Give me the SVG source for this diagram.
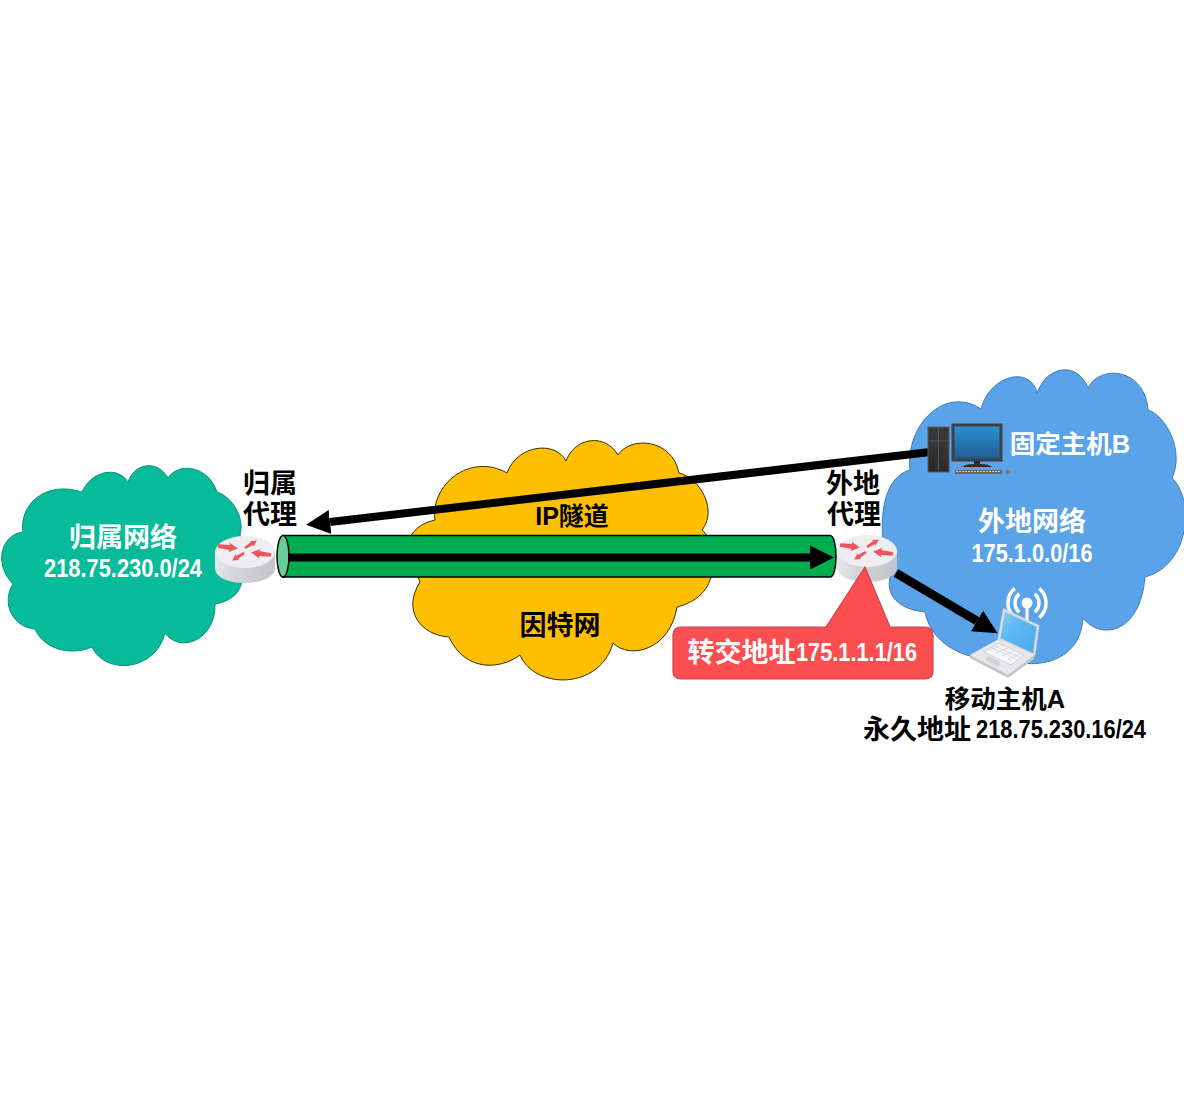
<svg xmlns="http://www.w3.org/2000/svg" width="1184" height="1120" viewBox="0 0 1184 1120">
<style>
text{font-family:"Liberation Sans","Noto Sans CJK SC",sans-serif;font-weight:700;text-anchor:middle;font-size:27px;fill:#000}
.w{fill:#fff}
.n{font-size:25px}
.ra{fill:#ef5560}
</style>
<defs>
<marker id="ah" markerUnits="userSpaceOnUse" markerWidth="26" markerHeight="28" refX="0" refY="14" orient="auto"><path d="M0 2L24 14L0 26Z" fill="#000"/></marker>
<linearGradient id="rs" x1="0" x2="1" y1="0" y2="0"><stop offset="0" stop-color="#e6e7e9"/><stop offset=".35" stop-color="#d3d4d8"/><stop offset="1" stop-color="#c3c5cc"/></linearGradient>
<linearGradient id="scr" x1="0" x2="0" y1="0" y2="1"><stop offset="0" stop-color="#2b93d6"/><stop offset="1" stop-color="#1f5a8c"/></linearGradient>
<linearGradient id="lap" x1="0" x2="1" y1="0" y2="1"><stop offset="0" stop-color="#8ccdf5"/><stop offset=".4" stop-color="#5fb8f2"/><stop offset="1" stop-color="#4aa9ea"/></linearGradient>
<linearGradient id="tow" x1="0" x2="0" y1="0" y2="1"><stop offset="0" stop-color="#3a3a3a"/><stop offset="1" stop-color="#2a2a2a"/></linearGradient>
<path id="ra" d="M0 -1.800L12 -2.500L11 -5L20 0L11 5L12 2.500L0 1.800Z"/>
<g id="router">
<path d="M0 16V32C0 41 13 47 30 47S60 41 60 32V16Z" fill="url(#rs)"/>
<ellipse cx="30" cy="16" rx="30" ry="16" fill="#eeeef0"/>
<use href="#ra" class="ra" transform="translate(3 10) rotate(7)"/>
<use href="#ra" class="ra" transform="translate(30 12) rotate(-32) scale(.7)"/>
<use href="#ra" class="ra" transform="translate(56 19) rotate(187)"/>
<use href="#ra" class="ra" transform="translate(29 17) rotate(148) scale(.7)"/>
</g>
</defs>

<g id="home-network">
<path d="M23 532C19 505 45 480 82 492C92 470 118 466 128 482C135 462 158 460 168 478C178 462 208 465 217 492C232 497 245 517 240 535C246 550 247 570 241 585C238 595 228 602 215 604C216 640 180 654 165 633C155 672 105 675 92 647C75 655 45 652 35 629C15 628 0 605 13 584C-6 565 0 535 23 532Z" fill="#06bb9a" stroke="#0a8f78"/>
<text class="w" x="123" y="547">归属网络</text>
<text class="w n" x="123" y="577" textLength="158" lengthAdjust="spacingAndGlyphs">218.75.230.0/24</text>
</g>

<g id="internet">
<path d="M435 520C430 485 470 452 507 473C517 445 555 440 566 461C575 437 605 433 618 455C630 436 672 438 679 473C700 478 718 510 702 530C712 538 718 565 711 577C706 595 692 603 677 607C670 650 630 660 613 643C600 690 535 690 520 655C500 670 465 672 449 637C420 635 402 610 420 582C415 570 405 550 412 534C418 526 426 522 435 520Z" fill="#fdbf00" stroke="#3a3000"/>
<text x="560" y="635">因特网</text>
</g>

<g id="foreign-network">
<path d="M910 470C905 425 945 385 981 409C990 375 1030 365 1037 393C1048 364 1078 362 1088 388C1100 364 1145 368 1148 410C1165 415 1185 450 1172 478C1195 500 1190 565 1145 577C1140 635 1100 640 1083 618C1080 670 1020 670 1000 655C980 665 932 650 925 612C905 610 885 600 890 577C876 530 880 478 910 470Z" fill="#5aa3e9" stroke="#3f7db8"/>
<text class="w" x="1032" y="531">外地网络</text>
<text class="w n" x="1032" y="562" textLength="121" lengthAdjust="spacingAndGlyphs">175.1.0.0/16</text>
</g>

<g id="tunnel">
<path d="M283 535.500H830C834 535.500 836 546 836 556.500S834 577 830 577H283Z" fill="#00ad4e" stroke="#000" stroke-width="1.500"/>
<ellipse cx="283" cy="556.300" rx="6" ry="20.700" fill="#66cd98" stroke="#000" stroke-width="1.500"/>
<text x="572" y="525" style="font-size:25px">IP隧道</text>
</g>

<g id="connectors" fill="none" stroke="#000">
<path d="M288 557.500H810" stroke-width="8" marker-end="url(#ah)"/>
<path d="M930 452L330 522" stroke-width="8" marker-end="url(#ah)"/>
<path d="M896 573L977 621" stroke-width="9" marker-end="url(#ah)"/>
</g>

<g id="home-agent">
<use href="#router" x="215" y="536"/>
<text x="270" y="493">归属</text>
<text x="270" y="524">代理</text>
</g>

<g id="foreign-agent">
<use href="#router" x="837" y="535"/>
<text x="853" y="493">外地</text>
<text x="854" y="524">代理</text>
</g>

<g id="care-of-address">
<path d="M865 567L890 627H925C930 627 933 630 933 635V671C933 676 930 679 925 679H681C676 679 673 676 673 671V635C673 630 676 627 681 627H826Z" fill="#fb4e50" stroke="#c9474a" stroke-width="1.200"/>
<text class="w" x="802" y="662"><tspan x="741.500">转交地址</tspan><tspan class="n" x="856.500" y="661" textLength="121" lengthAdjust="spacingAndGlyphs">175.1.1.1/16</tspan></text>
</g>

<g id="host-b">
<rect x="928" y="427" width="21" height="45" fill="url(#tow)" stroke="#5a5a5a"/>
<path d="M938.500 428V471M929 441H948" stroke="#555" stroke-width="1"/>
<circle cx="944" cy="456" r="1" fill="#8a3030"/>
<rect x="953" y="425" width="48" height="35" fill="url(#scr)" stroke="#3c3f45" stroke-width="3"/>
<path d="M974 461H980V464C986 464 990 465 992 467H962C964 465 968 464 974 464Z" fill="#2c2c2c"/>
<rect x="955" y="470" width="47" height="4" fill="#6a6a6a"/>
<path d="M956 471.500H1001" stroke="#ddd" stroke-width=".8" stroke-dasharray="2 1"/>
<ellipse cx="1008" cy="472" rx="2.500" ry="2" fill="#777"/>
<text class="w" x="1070" y="453" style="font-size:25.500px">固定主机B</text>
</g>

<g id="host-a">
<path d="M1027 620V603" stroke="#fff" stroke-width="3"/>
<circle cx="1027" cy="603" r="5.500" fill="#fff"/>
<path d="M1014.800 588.400A19 19 0 0 0 1014.800 617.600M1019.300 593.800A12 12 0 0 0 1019.300 612.200M1039.200 588.400A19 19 0 0 1 1039.200 617.600M1034.700 593.800A12 12 0 0 1 1034.700 612.200" fill="none" stroke="#fff" stroke-width="3.500"/>
<path d="M1004 610L1038 626L1034 655L999 639Z" fill="url(#lap)" stroke="#d8dbe0" stroke-width="2.500"/>
<path d="M999 639L1034 655L1034 659L1008 678L970 658L970 655Z" fill="#c4c6cb"/>
<path d="M999 639L1034 655L1008 675L970 655Z" fill="#e6e7ea"/>
<path d="M999 643L1024 655L1011 665L984 652Z" fill="#f6f6f8" stroke="#c8cacf" stroke-width=".8"/>
<path d="M992 648L1018 660M995 646L1021 658M1004 644L990 650M1010 647L996 653M1016 650L1002 656M1021 653L1008 660" stroke="#c8cacf" stroke-width=".6" fill="none"/>
<rect x="-7" y="-2.500" width="14" height="5" transform="translate(993 661) rotate(27)" fill="#d0d2d6"/>
<text x="1005" y="708" style="font-size:25.500px">移动主机A</text>
<text x="1004" y="739"><tspan x="917">永久地址</tspan><tspan class="n" x="1061" y="738" textLength="170" lengthAdjust="spacingAndGlyphs">218.75.230.16/24</tspan></text>
</g>
</svg>
